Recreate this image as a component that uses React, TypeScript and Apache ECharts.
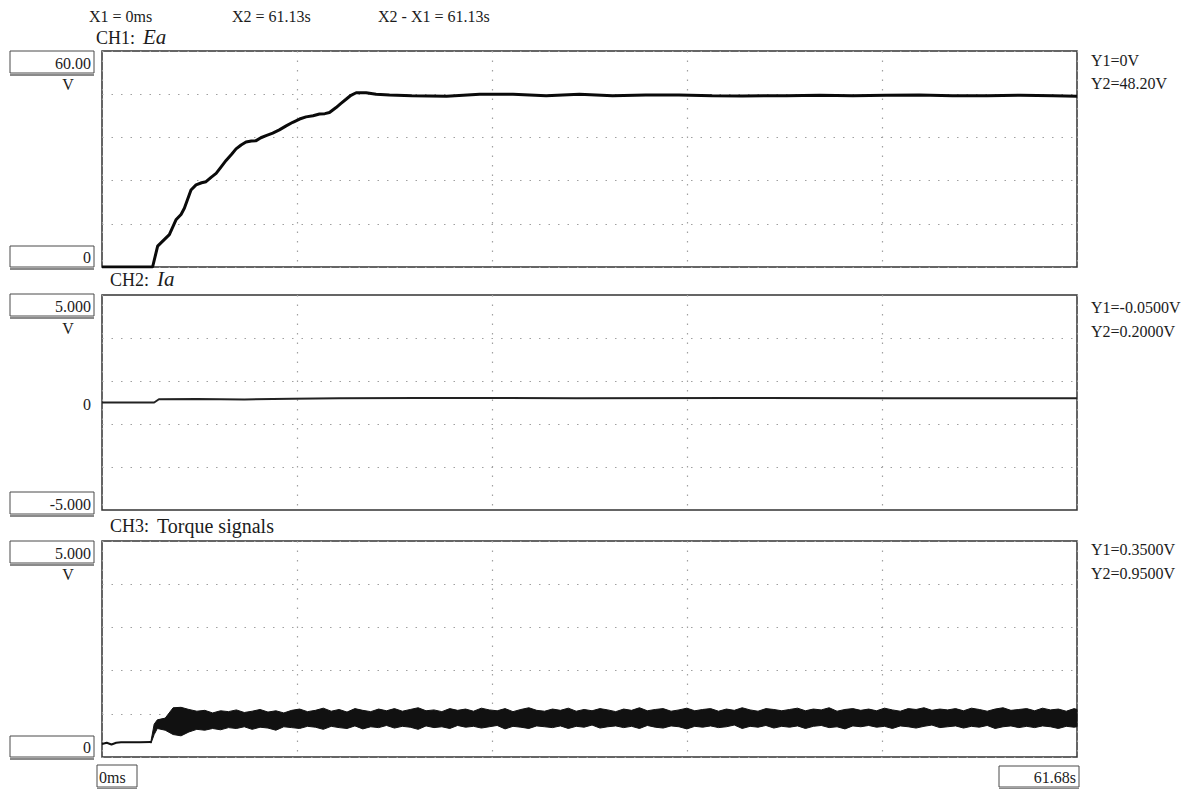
import { useEffect, useRef } from "react";
import * as echarts from "echarts";

// Screen time span and horizontal divisions
const X_MAX = 61.68;
const X_DIVS = 5;

// Cursor readouts
const headerTexts = ["X1 = 0ms", "X2 = 61.13s", "X2 - X1 = 61.13s"];
const channelNames = ["CH1:", "CH2:", "CH3:"];
const channelSignals = ["Ea", "Ia", "Torque signals"];
const ch1Cursor = ["Y1=0V", "Y2=48.20V"];
const ch2Cursor = ["Y1=-0.0500V", "Y2=0.2000V"];
const ch3Cursor = ["Y1=0.3500V", "Y2=0.9500V"];
const ch1Scale = ["60.00", "V", "0"];
const ch2Scale = ["5.000", "V", "0", "-5.000"];
const ch3Scale = ["5.000", "V", "0"];
const timeScale = ["0ms", "61.68s"];

// Vertical ranges (V)
const ch1Range = [0, 60, 12];
const ch2Range = [-5, 5];
const ch2GridLevels = [3, 1, -1, -3];
const ch3Range = [0, 5, 1];

// CH1: Ea (V)
const eaTime = [0, 3.2, 3.52, 3.84, 4.26, 4.68, 5.0, 5.21, 5.63, 5.95, 6.3, 6.58, 6.9, 7.22, 7.55, 7.85, 8.2, 8.48, 8.8, 9.11, 9.45, 9.75, 10.05, 10.38, 10.8, 11.22, 11.65, 12.07, 12.5, 12.91, 13.35, 13.76, 14.1, 14.39, 14.81, 15.1, 15.44, 15.75, 16.08, 16.71, 17.34, 18.19, 19.6, 21.8, 23.9, 26.0, 28.1, 30.2, 32.3, 34.4, 36.5, 38.6, 40.5, 43.3, 45.4, 47.5, 49.6, 51.7, 53.8, 56.0, 58.1, 60.2, 61.68];
const eaValue = [0, 0, 5.8, 7.2, 9.0, 13.1, 14.6, 16.3, 21.4, 22.8, 23.4, 23.7, 24.9, 26.0, 27.9, 29.6, 31.3, 32.8, 33.9, 34.7, 35.0, 35.1, 35.9, 36.5, 37.2, 38.1, 39.2, 40.2, 41.1, 41.7, 42.0, 42.5, 42.6, 42.9, 44.3, 45.4, 46.6, 47.7, 48.4, 48.4, 48.0, 47.8, 47.6, 47.4, 48.0, 48.0, 47.6, 48.0, 47.6, 47.8, 47.8, 47.6, 47.5, 47.6, 47.7, 47.6, 47.7, 47.8, 47.6, 47.6, 47.7, 47.6, 47.4];

// CH2: Ia (V)
const iaTime = [0, 3.3, 3.6, 6.0, 9.0, 12.0, 15.0, 20.0, 30.0, 40.0, 50.0, 61.68];
const iaValue = [0, 0, 0.15, 0.16, 0.14, 0.18, 0.2, 0.21, 0.2, 0.21, 0.2, 0.2];

// CH3: torque before the step (V)
const tqLeadTime = [0, 0.3, 0.6, 0.9, 1.2, 1.8, 2.4, 3.1];
const tqLeadValue = [0.3, 0.33, 0.29, 0.33, 0.34, 0.34, 0.34, 0.35];

// CH3: torque ripple envelope after the step (V)
const tqTime = [3.1, 3.3, 3.5, 4.0, 4.5, 5.0, 5.5, 6.0, 6.5, 7.0, 7.5, 8.0,
  8.5, 9.0, 9.5, 10.0, 10.5, 11.0, 11.5, 12.0, 12.5, 13.0,
  13.5, 14.0, 14.5, 15.0, 15.5, 16.0, 16.5, 17.0, 17.5, 18.0,
  18.5, 19.0, 19.5, 20.0, 20.5, 21.0, 21.5, 22.0, 22.5, 23.0,
  23.5, 24.0, 24.5, 25.0, 25.5, 26.0, 26.5, 27.0, 27.5, 28.0,
  28.5, 29.0, 29.5, 30.0, 30.5, 31.0, 31.5, 32.0, 32.5, 33.0,
  33.5, 34.0, 34.5, 35.0, 35.5, 36.0, 36.5, 37.0, 37.5, 38.0,
  38.5, 39.0, 39.5, 40.0, 40.5, 41.0, 41.5, 42.0, 42.5, 43.0,
  43.5, 44.0, 44.5, 45.0, 45.5, 46.0, 46.5, 47.0, 47.5, 48.0,
  48.5, 49.0, 49.5, 50.0, 50.5, 51.0, 51.5, 52.0, 52.5, 53.0,
  53.5, 54.0, 54.5, 55.0, 55.5, 56.0, 56.5, 57.0, 57.5, 58.0,
  58.5, 59.0, 59.5, 60.0, 60.5, 61.0, 61.5, 61.68];
const tqUpper = [0.37, 0.76, 0.86, 0.9, 1.14, 1.15, 1.1, 1.06, 1.08, 1.02, 1.07, 1.05,
  1.09, 1.03, 1.06, 1.1, 1.04, 1.07, 1.02, 1.08, 1.11, 1.05,
  1.08, 1.13, 1.06, 1.1, 1.04, 1.12, 1.08, 1.05, 1.11, 1.07,
  1.12, 1.06, 1.1, 1.14, 1.07, 1.09, 1.05, 1.12, 1.08, 1.11,
  1.06, 1.13, 1.09, 1.07, 1.12, 1.05, 1.1, 1.14, 1.08, 1.06,
  1.11, 1.08, 1.13, 1.06, 1.1, 1.07, 1.12, 1.09, 1.05, 1.11,
  1.08, 1.14, 1.07, 1.1, 1.12, 1.06, 1.09, 1.13, 1.07, 1.1,
  1.12, 1.06, 1.11, 1.08, 1.14, 1.09, 1.06, 1.12, 1.1, 1.07,
  1.1, 1.13, 1.07, 1.11, 1.09, 1.14, 1.06, 1.1, 1.12, 1.08,
  1.11, 1.07, 1.13, 1.09, 1.06, 1.12, 1.1, 1.14, 1.08, 1.11,
  1.09, 1.12, 1.07, 1.13, 1.1, 1.06, 1.11, 1.14, 1.08, 1.1,
  1.12, 1.07, 1.13, 1.09, 1.11, 1.06, 1.12, 1.1];
const tqLower = [0.32, 0.52, 0.66, 0.62, 0.52, 0.49, 0.58, 0.64, 0.62, 0.66, 0.63, 0.68,
  0.66, 0.7, 0.64, 0.69, 0.67, 0.62, 0.7, 0.68, 0.66, 0.71,
  0.69, 0.64, 0.71, 0.68, 0.66, 0.72, 0.65, 0.7, 0.68, 0.73,
  0.67, 0.71, 0.69, 0.64, 0.72, 0.68, 0.7, 0.66, 0.73, 0.69,
  0.71, 0.67, 0.7, 0.73, 0.65, 0.71, 0.69, 0.66, 0.72, 0.7,
  0.68, 0.72, 0.66, 0.71, 0.69, 0.74, 0.67, 0.7, 0.72, 0.68,
  0.71, 0.66, 0.73, 0.69, 0.67, 0.72, 0.7, 0.65, 0.71, 0.69,
  0.72, 0.68, 0.7, 0.74, 0.66, 0.71, 0.69, 0.73, 0.67, 0.71,
  0.69, 0.72, 0.66, 0.71, 0.73, 0.68, 0.7, 0.65, 0.72, 0.7,
  0.73, 0.69, 0.71, 0.66, 0.72, 0.7, 0.67, 0.71, 0.74, 0.68,
  0.7, 0.72, 0.67, 0.71, 0.69, 0.73, 0.66, 0.7, 0.72, 0.68,
  0.71, 0.68, 0.72, 0.7, 0.66, 0.71, 0.69, 0.7];

const FONT = '"Liberation Serif", "Times New Roman", serif';
const INK = "#1c1c1c";
const GRID_DOTS = { color: "#a0a0a0", type: [1.5, 8] as number[], width: 1.2 };

const zip = (xs: number[], ys: number[]) => xs.map((x, i) => [x, ys[i]]);

function label(x: number, y: number, text: string, size: number, align = "left", italic = false) {
  return {
    type: "text",
    x,
    y,
    silent: true,
    style: {
      text,
      fill: INK,
      font: `${italic ? "italic " : ""}${size}px ${FONT}`,
      align,
      verticalAlign: "middle",
    },
  };
}

function valueBox(x: number, y: number, w: number, h: number, text: string, align = "right") {
  return [
    {
      type: "line",
      silent: true,
      shape: { x1: x, y1: y + h + 2, x2: x + w, y2: y + h + 2 },
      style: { stroke: "#8a8a8a", lineWidth: 2 },
    },
    {
      type: "rect",
      silent: true,
      shape: { x, y, width: w, height: h },
      style: { fill: "#fff", stroke: "#4a4a4a", lineWidth: 1 },
    },
    label(align === "right" ? x + w - 3 : x + 2, y + h / 2 + 1, text, 16, align),
  ];
}

export default function App() {
  const ref = useRef<HTMLDivElement>(null);

  useEffect(() => {
    if (!ref.current) return;
    const chart = echarts.init(ref.current, undefined, { renderer: "svg" });

    const grids = [
      { left: 102, top: 51, width: 975, height: 216 },
      { left: 102, top: 295, width: 975, height: 215 },
      { left: 102, top: 541, width: 975, height: 216 },
    ].map((g) => ({ ...g, show: true, borderColor: "#333", borderWidth: 1.5, backgroundColor: "#fff" }));

    const xAxes = [0, 1, 2].map((i) => ({
      type: "value",
      gridIndex: i,
      min: 0,
      max: X_MAX,
      interval: X_MAX / X_DIVS,
      axisLine: { show: false },
      axisTick: { show: false },
      axisLabel: { show: false },
      splitLine: { show: true, lineStyle: GRID_DOTS },
    }));

    const hiddenAxis = { axisLine: { show: false }, axisTick: { show: false }, axisLabel: { show: false } };
    const yAxes = [
      { type: "value", gridIndex: 0, min: ch1Range[0], max: ch1Range[1], interval: ch1Range[2], ...hiddenAxis, splitLine: { show: true, lineStyle: GRID_DOTS } },
      { type: "value", gridIndex: 1, min: ch2Range[0], max: ch2Range[1], ...hiddenAxis, splitLine: { show: false } },
      { type: "value", gridIndex: 2, min: ch3Range[0], max: ch3Range[1], interval: ch3Range[2], ...hiddenAxis, splitLine: { show: true, lineStyle: GRID_DOTS } },
    ];

    const trace = { type: "line", showSymbol: false, symbol: "none", silent: true };

    const series = [
      {
        ...trace,
        name: "Ea",
        xAxisIndex: 0,
        yAxisIndex: 0,
        data: zip(eaTime, eaValue),
        lineStyle: { color: "#0a0a0a", width: 3 },
      },
      {
        ...trace,
        name: "Ia",
        xAxisIndex: 1,
        yAxisIndex: 1,
        data: zip(iaTime, iaValue),
        lineStyle: { color: "#222", width: 2 },
        markLine: {
          silent: true,
          symbol: "none",
          label: { show: false },
          lineStyle: GRID_DOTS,
          data: ch2GridLevels.map((v) => ({ yAxis: v })),
        },
      },
      {
        ...trace,
        name: "Torque lead",
        xAxisIndex: 2,
        yAxisIndex: 2,
        data: zip(tqLeadTime, tqLeadValue),
        lineStyle: { color: "#111", width: 2 },
      },
      {
        // Ripple band: filled region between the lower and upper envelope
        type: "custom",
        name: "Torque ripple",
        xAxisIndex: 2,
        yAxisIndex: 2,
        silent: true,
        data: [[tqTime[0], tqUpper[0]]],
        renderItem: (_params: any, api: any) => {
          const top = tqTime.map((t, i) => api.coord([t, tqUpper[i]]));
          const bottom = tqTime.map((t, i) => api.coord([t, tqLower[i]])).reverse();
          return {
            type: "polygon",
            shape: { points: top.concat(bottom) },
            style: { fill: "#111", stroke: "#111", lineWidth: 1 },
          };
        },
      },
    ];

    const graphic = [
      label(89, 16, headerTexts[0], 16),
      label(232, 16, headerTexts[1], 16),
      label(378, 16, headerTexts[2], 16),

      label(96, 38, channelNames[0], 18),
      label(143, 37, channelSignals[0], 21, "left", true),
      label(110, 280, channelNames[1], 18),
      label(157, 279, channelSignals[1], 21, "left", true),
      label(110, 526, channelNames[2], 18),
      label(157, 526, channelSignals[2], 20),

      ...valueBox(10, 51, 84, 22, ch1Scale[0]),
      label(68, 84, ch1Scale[1], 16, "center"),
      ...valueBox(10, 246, 84, 21, ch1Scale[2]),

      ...valueBox(10, 294, 84, 22, ch2Scale[0]),
      label(68, 328, ch2Scale[1], 16, "center"),
      label(91, 404, ch2Scale[2], 16, "right"),
      ...valueBox(10, 492, 84, 22, ch2Scale[3]),

      ...valueBox(10, 541, 84, 22, ch3Scale[0]),
      label(68, 574, ch3Scale[1], 16, "center"),
      ...valueBox(10, 736, 84, 21, ch3Scale[2]),

      ...valueBox(97, 765, 40, 22, timeScale[0], "left"),
      ...valueBox(999, 766, 80, 21, timeScale[1]),

      label(1091, 60, ch1Cursor[0], 16),
      label(1091, 83, ch1Cursor[1], 16),
      label(1091, 307, ch2Cursor[0], 16),
      label(1091, 331, ch2Cursor[1], 16),
      label(1091, 549, ch3Cursor[0], 16),
      label(1091, 573, ch3Cursor[1], 16),
    ];

    chart.setOption({
      animation: false,
      backgroundColor: "#fff",
      grid: grids,
      xAxis: xAxes,
      yAxis: yAxes,
      series,
      graphic,
    });

    return () => chart.dispose();
  }, []);

  return (
    <div
      ref={ref}
      style={{ position: "fixed", left: 0, top: 0, width: 1194, height: 789, background: "#fff" }}
    />
  );
}
